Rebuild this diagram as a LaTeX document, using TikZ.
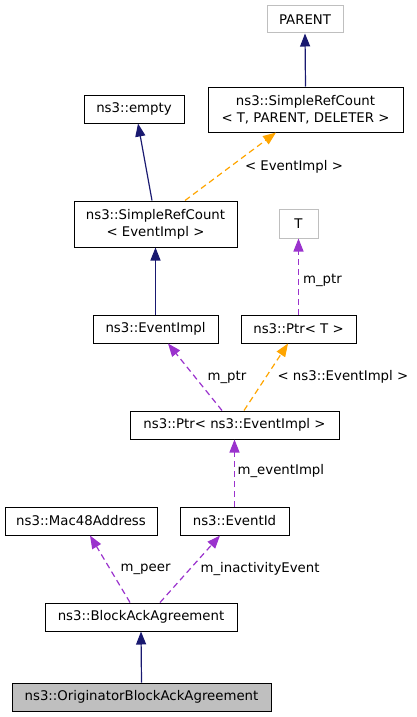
\documentclass[tikz,border=0pt]{standalone}
\usepackage{fontspec}
\setmainfont{DejaVu Sans}
\usetikzlibrary{arrows.meta}
\begin{document}
\begin{tikzpicture}
        [
            x=1pt, y=-1pt,
            box/.style={draw=black, line width=1pt, inner ysep=0pt, inner xsep=0pt,
                minimum height=28pt, align=center, font=\fontsize{13.3}{17}\selectfont},
            ghost/.style={box, draw=black!25},
            lbl/.style={inner sep=0pt, font=\fontsize{13.3}{16}\selectfont},
            inherit/.style={draw={rgb,255:red,25;green,25;blue,112}, line width=1.2pt,
                -{Triangle[length=13pt,width=10pt]}},
            usage/.style={draw={rgb,255:red,154;green,50;blue,205}, line width=1.2pt,
                dash pattern=on 6pt off 4pt,
                -{Triangle[length=13pt,width=10pt,fill={rgb,255:red,154;green,50;blue,205}]}},
            tmplarg/.style={usage, draw={rgb,255:red,255;green,165;blue,0},
                -{Triangle[length=13pt,width=10pt,fill={rgb,255:red,255;green,165;blue,0}]}}
        ]
        \useasboundingbox (0,0) rectangle (416,717);

        \node[ghost, minimum width=76pt, minimum height=27pt] (parent) at (305, 19.5) {PARENT};
        \node[box, minimum width=195pt, minimum height=45pt] (srct) at (305.5, 109.5)
            {ns3::SimpleRefCount\\< T, PARENT, DELETER >};
        \node[box, minimum width=100pt] (empty) at (134, 109) {ns3::empty};
        \node[box, minimum width=163pt, minimum height=46pt] (srce) at (155.5, 224)
            {ns3::SimpleRefCount\\< EventImpl >};
        \node[ghost, minimum width=39pt, minimum height=29pt] (t) at (298.5, 223.5) {T};
        \node[box, minimum width=125pt] (eventimpl) at (155.5, 329) {ns3::EventImpl};
        \node[box, minimum width=115pt] (ptrt) at (298.5, 329) {ns3::Ptr< T >};
        \node[box, minimum width=209pt] (ptre) at (234.5, 425) {ns3::Ptr< ns3::EventImpl >};
        \node[box, minimum width=152pt] (mac) at (81, 521) {ns3::Mac48Address};
        \node[box, minimum width=109pt] (eventid) at (234.5, 521) {ns3::EventId};
        \node[box, minimum width=192pt] (blockack) at (141, 617) {ns3::BlockAckAgreement};
        \node[box, minimum width=259pt, fill=black!25] (orig) at (141.5, 697)
            {ns3::OriginatorBlockAckAgreement};

        \draw[inherit] (srct.north) -- (parent.south);
        \draw[inherit] ([xshift=-3.5pt]srce.north) -- ([xshift=4pt]empty.south);
        \draw[tmplarg] ([xshift=29.5pt]srce.north) -- node[lbl, right=14pt] {< EventImpl >}
            ([xshift=-29.5pt]srct.south);
        \draw[inherit] (eventimpl.north) -- (srce.south);
        \draw[usage] (ptrt.north) -- node[lbl, right=4pt, yshift=-3.5pt] {m\_ptr} (t.south);
        \draw[usage] ([xshift=-12.5pt]ptre.north) -- node[lbl, right=12pt] {m\_ptr}
            ([xshift=12.5pt]eventimpl.south);
        \draw[tmplarg] ([xshift=9.5pt]ptre.north) -- node[lbl, right=11pt] {< ns3::EventImpl >}
            ([xshift=-10.5pt]ptrt.south);
        \draw[usage] (eventid.north) -- node[lbl, right=2.5pt, yshift=2pt] {m\_eventImpl} (ptre.south);
        \draw[usage] ([xshift=-11pt]blockack.north) -- node[lbl, right=10pt] {m\_peer}
            ([xshift=9pt]mac.south);
        \draw[usage] ([xshift=19pt]blockack.north) -- node[lbl, right=10pt] {m\_inactivityEvent}
            ([xshift=-14.5pt]eventid.south);
        \draw[inherit] (orig.north) -- (blockack.south);
    \end{tikzpicture}
\end{document}
